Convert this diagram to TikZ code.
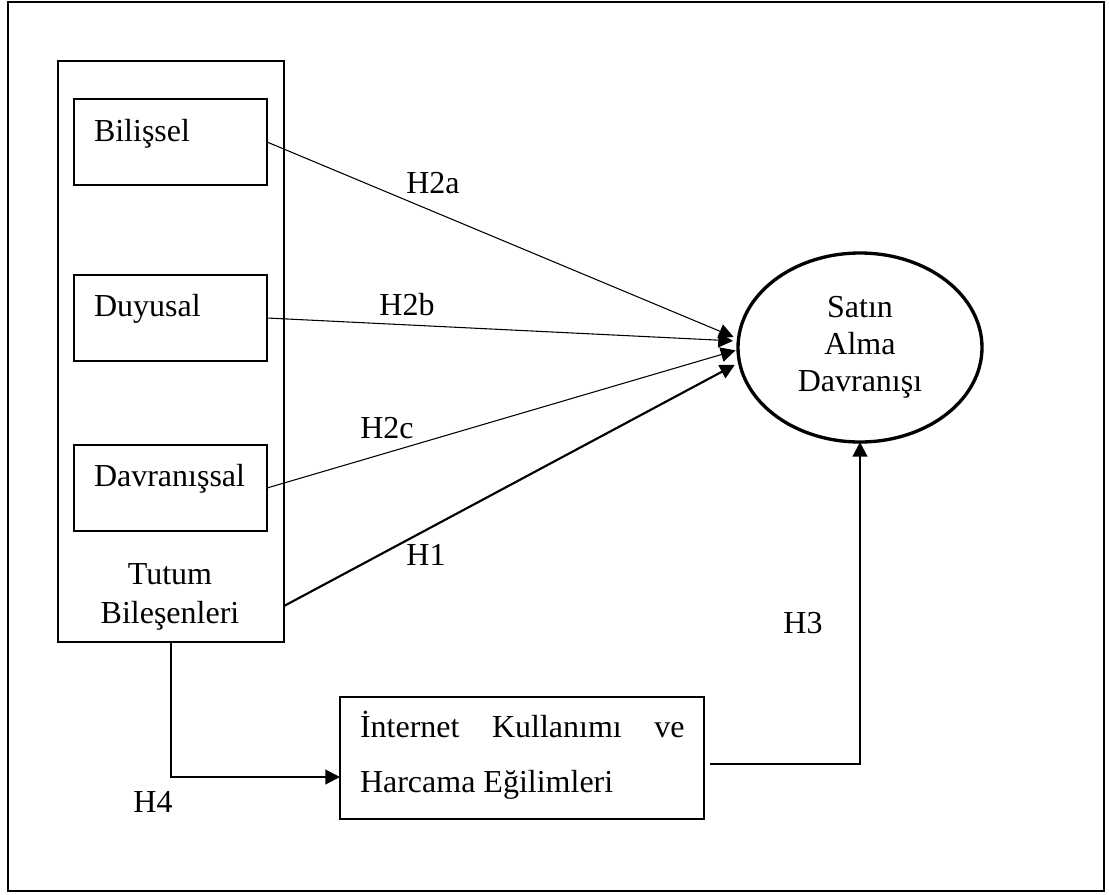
\documentclass[tikz,border=0pt]{standalone}
\usepackage{fontspec}
\setmainfont{Liberation Serif}
\usetikzlibrary{arrows.meta,shapes.geometric}
\begin{document}
\begin{tikzpicture}[x=0.75pt,y=-0.75pt,
  every node/.style={inner sep=0pt,outer sep=0pt},
  txt/.style={font=\fontsize{24}{29.25}\selectfont},
  compbox/.style={draw,line width=0.8pt,minimum width=144.75pt,minimum height=64.5pt},
  tip/.style={-{Triangle[length=11pt,width=11pt]}},
  thinarrow/.style={line width=0.8pt,tip},
  thickarrow/.style={line width=1.6pt,tip},
  elbow/.style={line width=1.6pt}]
\useasboundingbox (0,0) rectangle (1109,894);
% outer frame
\draw[line width=1.1pt] (8,2) rectangle (1104,891);
% container
\node[draw,line width=2.2pt,minimum width=169.5pt,minimum height=435.75pt] (tutum) at (171,351.5) {};
\node[txt,align=center,anchor=base] (tutumlbl) at (170,623) {Tutum\\Bileşenleri};
% component boxes
\node[compbox] (bil) at (170.5,142) {};
\node[compbox] (duy) at (170.5,318) {};
\node[compbox] (dav) at (170.5,488) {};
\node[txt,anchor=base west] (biltxt) at (94,141) {Bilişsel};
\node[txt,anchor=base west] (duytxt) at (94,316) {Duyusal};
\node[txt,anchor=base west] (davtxt) at (94,486) {Davranışsal};
% ellipse
\node[draw,ellipse,line width=2.5pt,minimum width=183pt,minimum height=141.75pt,
      font=\fontsize{24}{27.75}\selectfont,align=center] (sat) at (860,347.5) {Satın\\Alma\\Davranışı};
% bottom box
\node[draw,line width=0.9pt,minimum width=273pt,minimum height=91.5pt] (inet) at (522,758) {};
\node[txt,anchor=base west] (inet1) at (360,737) {\makebox[243.4pt][s]{İnternet Kullanımı ve}};
\node[txt,anchor=base west] (inet2) at (360,792) {Harcama Eğilimleri};
% connectors
\draw[thinarrow,shorten >=4pt] (bil.east) -- (sat.176.5);
\draw[thinarrow,shorten >=4pt] (duy.east) -- (sat.177.4);
\draw[thinarrow,shorten >=2pt] (dav.east) -- (sat.181);
\draw[thickarrow,shorten >=4pt] ([yshift=27pt]tutum.south east) -- (sat.187);
\draw[elbow,tip] (tutum.south) |- ([yshift=-14.25pt]inet.west);
\draw[elbow,tip] ([xshift=4.5pt,yshift=-4.5pt]inet.east) -| (sat.south);
% labels
\node[txt] (h2a) at (433,183) {H2a};
\node[txt] (h2b) at (407,305) {H2b};
\node[txt] (h2c) at (387,428) {H2c};
\node[txt] (h1) at (426,555) {H1};
\node[txt] (h3) at (803,623) {H3};
\node[txt] (h4) at (153,802) {H4};
\end{tikzpicture}
\end{document}
